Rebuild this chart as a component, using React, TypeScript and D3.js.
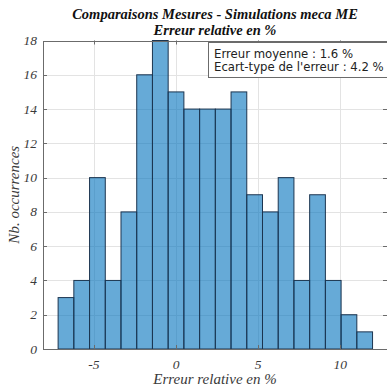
import React from "react";
import * as d3 from "d3";

// histogram counts, one per bin
const counts = [3, 4, 10, 4, 8, 16, 18, 15, 14, 14, 14, 15, 9, 8, 10, 4, 9, 4, 2, 1];
const binStart = -7.18;
const binWidth = 0.957;

const xTicks = [-5, 0, 5, 10];
const yTicks = [0, 2, 4, 6, 8, 10, 12, 14, 16, 18];

const titleLines = ["Comparaisons Mesures - Simulations meca ME", "Erreur relative en %"];
const legendLines = ["Erreur moyenne : 1.6 %", "Ecart-type de l'erreur : 4.2 %"];

const W = 387, H = 386;
const left = 43, right = 387, top = 40.5, bottom = 349;

const serif = { fontFamily: "Liberation Serif, DejaVu Serif, serif" };

const App = () => {
    const x = d3.scaleLinear().domain([-8.1, 12.84]).range([left, right]);
    const y = d3.scaleLinear().domain([0, 18]).range([bottom, top]);

    const bins = counts.map((c, i) => ({
        x0: binStart + i * binWidth,
        x1: binStart + (i + 1) * binWidth,
        count: c,
    }));

    const cx = (left + right) / 2;

    return (
        <svg width={W} height={H} style={{ position: "absolute", left: 0, top: 0, background: "#fff" }}>
            {/* grid */}
            <g stroke="#e3e3e3" strokeWidth={1}>
                {yTicks.map(t => (
                    <line key={"gy" + t} x1={left} x2={right} y1={Math.round(y(t)) + 0.5} y2={Math.round(y(t)) + 0.5} />
                ))}
                {xTicks.map(t => (
                    <line key={"gx" + t} x1={Math.round(x(t)) + 0.5} x2={Math.round(x(t)) + 0.5} y1={top} y2={bottom} />
                ))}
            </g>

            {/* bars */}
            <g>
                {bins.map((b, i) => (
                    <rect
                        key={i}
                        x={x(b.x0)}
                        y={y(b.count)}
                        width={x(b.x1) - x(b.x0)}
                        height={y(0) - y(b.count)}
                        fill="rgb(0,114,189)"
                        fillOpacity={0.6}
                        stroke="#1c3550"
                        strokeWidth={1}
                    />
                ))}
            </g>

            {/* axes box */}
            <g stroke="#6b6b6b" strokeWidth={1} fill="none">
                <rect x={left + 0.5} y={Math.round(top) + 0.5} width={right - left} height={bottom - Math.round(top)} />
                {yTicks.map(t => {
                    const yy = Math.round(y(t)) + 0.5;
                    return (
                        <g key={"ty" + t}>
                            <line x1={left} x2={left + 4} y1={yy} y2={yy} />
                            <line x1={right - 4} x2={right} y1={yy} y2={yy} />
                        </g>
                    );
                })}
                {xTicks.map(t => {
                    const xx = Math.round(x(t)) + 0.5;
                    return (
                        <g key={"tx" + t}>
                            <line x1={xx} x2={xx} y1={bottom} y2={bottom - 4} />
                            <line x1={xx} x2={xx} y1={top} y2={top + 4} />
                        </g>
                    );
                })}
            </g>

            {/* tick labels */}
            <g style={serif} fontStyle="italic" fontSize={13.5} fill="#3a3a3a">
                {yTicks.map(t => (
                    <text key={"ly" + t} x={37} y={y(t) + 4.5} textAnchor="end">{t}</text>
                ))}
                {xTicks.map(t => (
                    <text key={"lx" + t} x={x(t)} y={369} textAnchor="middle">{t}</text>
                ))}
            </g>

            {/* axis labels */}
            <text x={cx} y={384} textAnchor="middle" style={serif} fontStyle="italic" fontSize={15} fill="#3a3a3a">
                Erreur relative en %
            </text>
            <text
                transform={`translate(19 ${(top + bottom) / 2}) rotate(-90)`}
                textAnchor="middle"
                style={serif}
                fontStyle="italic"
                fontSize={15}
                fill="#3a3a3a"
            >
                Nb. occurrences
            </text>

            {/* title */}
            <g style={serif} fontStyle="italic" fontWeight="bold" fontSize={14.5} fill="#111" textAnchor="middle">
                {titleLines.map((l, i) => (
                    <text key={i} x={cx} y={18.5 + i * 16}>{l}</text>
                ))}
            </g>

            {/* legend */}
            <g>
                <rect x={208.5} y={42.5} width={200} height={35} fill="#fff" stroke="#6b6b6b" strokeWidth={1} />
                {legendLines.map((l, i) => (
                    <text key={i} x={214} y={57.5 + i * 13} style={{ fontFamily: "DejaVu Sans, sans-serif" }} fontSize={11.7} fill="#222">
                        {l}
                    </text>
                ))}
            </g>
        </svg>
    );
};

export default App;
